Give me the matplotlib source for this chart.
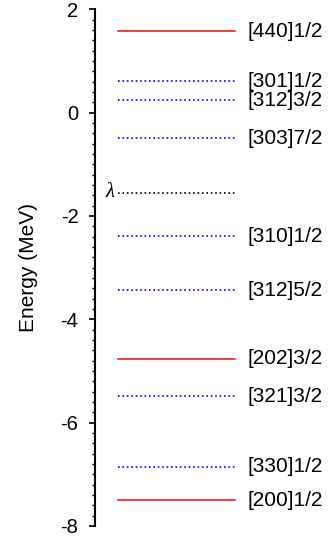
import matplotlib.pyplot as plt

plt.rcParams['font.family'] = ['Liberation Sans', 'DejaVu Sans']

# single-particle levels (MeV)
labels = ["[440]1/2", "[301]1/2", "[312]3/2", "[303]7/2", "[310]1/2",
          "[312]5/2", "[202]3/2", "[321]3/2", "[330]1/2", "[200]1/2"]
energies = [1.57, 0.61, 0.24, -0.50, -2.39, -3.44, -4.76, -5.49, -6.85, -7.50]
parity = ["+", "-", "-", "-", "-", "-", "+", "-", "-", "+"]
fermi = -1.55

fig = plt.figure(figsize=(3.29, 5.40), dpi=100)
ax = fig.add_axes([0.289, 0.026, 0.711, 0.957])

x0, x1 = 0.10, 0.60
for lab, e, p in zip(labels, energies, parity):
    if p == "+":
        ax.plot([x0, x1], [e, e], color="red", lw=1.1, ls="-")
    else:
        ax.plot([x0, x1], [e, e], color="blue", lw=1.2, ls=":")
    ax.text(0.65, e, lab, fontsize=15, va="center", ha="left")

# fermi level
ax.plot([x0, x1], [fermi, fermi], color="black", lw=1.2, ls=":")
ax.text(0.085, fermi, "λ", fontsize=15, va="center", ha="right",
        family="Liberation Serif", style="italic")

ax.set_xlim(0, 1)
ax.set_ylim(-8, 2)
ax.set_yticks([-8, -6, -4, -2, 0, 2])
ax.set_yticklabels(["-8", "-6", "-4", "-2", "0", "2"])
ax.set_yticks([i * 0.2 - 8 for i in range(51)], minor=True)
ax.tick_params(axis="y", which="major", labelsize=14.5, length=4, width=1.2, direction="out", pad=8)
ax.tick_params(axis="y", which="minor", length=2, width=1, direction="out")
ax.set_ylabel("Energy (MeV)", fontsize=15, labelpad=16)

ax.set_xticks([])
for s in ["top", "right", "bottom"]:
    ax.spines[s].set_visible(False)
ax.spines["left"].set_linewidth(1.5)

fig.savefig("out.png", dpi=100)
